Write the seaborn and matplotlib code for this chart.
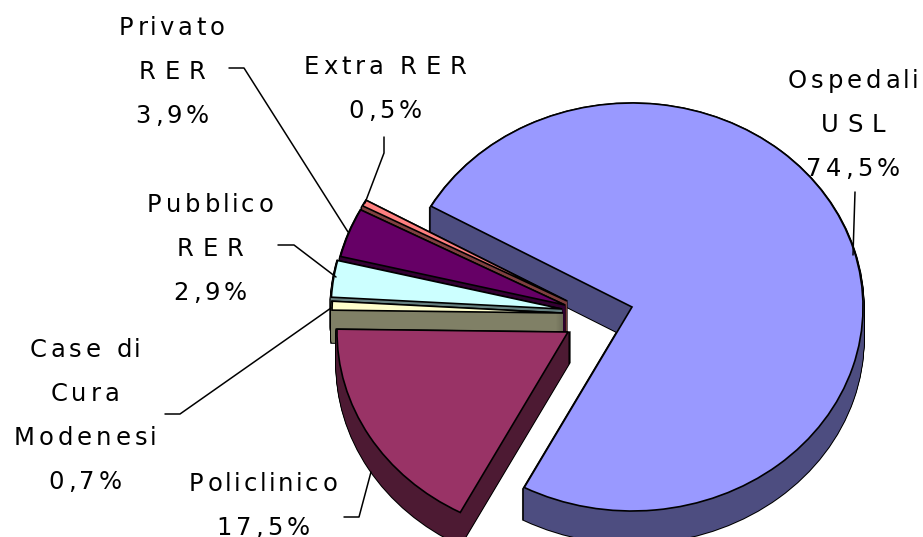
import seaborn as sns
import matplotlib.pyplot as plt
from matplotlib.colors import to_rgb
from matplotlib.font_manager import FontProperties, findfont, get_font
from matplotlib.ft2font import LoadFlags
from matplotlib.text import Text
from matplotlib.transforms import IdentityTransform

# quote regionali, in senso orario dalla fetta Ospedali
labels = ["Ospedali\nUSL\n74,5%", "Policlinico\n17,5%", "Case di\nCura\nModenesi\n0,7%",
          "Pubblico\nRER\n2,9%", "Privato\nRER\n3,9%", "Extra RER\n0,5%"]
values = [74.5, 17.5, 0.7, 2.9, 3.9, 0.5]
top_colors = ["#9999FF", "#993366", "#FFFFCC", "#CCFFFF", "#660066", "#FF8080"]

W, H = 923, 537
RX, RY = 231.0, 204.0
DEPTH = 32
START = 150.4
LEAD = 44
FONT_SIZE = 17.5

# centro di ogni fetta esplosa (pixel immagine)
centers = [(632, 307), (568, 332), (563, 313), (562, 309), (565, 305), (567, 301)]
layer_order = [1, 6, 5, 4, 3, 2]

label_pos = [(853, 123), (263, 504), (85, 414), (210, 247), (172, 70), (385, 87)]
leaders = [[(855, 192), (853, 255)],
           [(344, 517), (359, 517), (371, 472)],
           [(165, 414), (180, 414), (331, 308)],
           [(278, 245), (294, 245), (336, 277)],
           [(229, 68), (244, 68), (348, 232)],
           [(384, 137), (384, 153), (365, 203)]]


def xp(x):
    return x / RX


def yp(y):
    return (H - y) / RY


class SpacedText(Text):
    # testo con spaziatura tra le lettere, come nel grafico originale
    def draw(self, renderer):
        fp = self.get_fontproperties()
        font = get_font(findfont(fp))
        font.set_size(fp.get_size_in_points(), self.figure.dpi)
        x0, y0 = self.get_transform().transform(self.get_position())
        lines = self.get_text().split("\n")
        for k, line in enumerate(lines):
            steps = []
            for j, ch in enumerate(line):
                adv = font.load_char(ord(ch), flags=LoadFlags.NO_HINTING).linearHoriAdvance / 65536
                if j == len(line) - 1:
                    steps.append(adv)
                elif ch.isupper() and line[j + 1].isupper():
                    steps.append(adv + 9)
                elif ch in "il" or line[j + 1] in "il":
                    steps.append(adv + 2.5)
                else:
                    steps.append(adv + 4)
            x = x0 - sum(steps) / 2
            y = y0 + (len(lines) - 1) / 2 * LEAD - k * LEAD - 9
            for ch, step in zip(line, steps):
                t = Text(x, y, ch, fontproperties=fp, color=self.get_color(),
                         va="baseline", ha="left", transform=IdentityTransform())
                t.set_figure(self.figure)
                t.draw(renderer)
                x += step


sns.set_theme(style="white")
plt.rcParams["font.family"] = ["DejaVu Sans"]
wall_colors = [tuple(c * 0.5 for c in to_rgb(col)) for col in top_colors]

fig = plt.figure(figsize=(W / 100, H / 100), dpi=100)
ax = fig.add_axes([0, 0, 1, 1])


def draw_layer(depth, colors, edges, lw, z):
    wedges, _ = ax.pie(values, colors=colors, startangle=START, counterclock=False, radius=1,
                       wedgeprops=dict(linewidth=lw))
    for i, w in enumerate(wedges):
        cx, cy = centers[i]
        w.set_center((xp(cx), yp(cy + depth)))
        w.set_edgecolor(edges[i])
        w.set_zorder(layer_order[i] + z)


# fianco: prima il contorno nero, poi il riempimento scuro, infine la faccia superiore
for d in range(DEPTH, 0, -1):
    draw_layer(d, ["black"] * 6, ["black"] * 6, 2.4, 0.1)
for d in range(DEPTH, 0, -1):
    draw_layer(d, wall_colors, wall_colors, 0.9, 0.2)
draw_layer(0, top_colors, ["black"] * 6, 1.2, 0.3)

ax.set_aspect("auto")
ax.set_xlim(0, xp(W))
ax.set_ylim(0, yp(0))
ax.axis("off")

for pts in leaders:
    ax.plot([xp(p[0]) for p in pts], [yp(p[1]) for p in pts], color="black", lw=1.1, zorder=9)

for text, (x, y) in zip(labels, label_pos):
    t = SpacedText(xp(x), yp(y), text, ha="center", va="center",
                   fontproperties=FontProperties(family="DejaVu Sans", size=FONT_SIZE),
                   linespacing=2.0, color="black", zorder=10, transform=ax.transData)
    ax.add_artist(t)

fig.savefig("out.png", dpi=100)
